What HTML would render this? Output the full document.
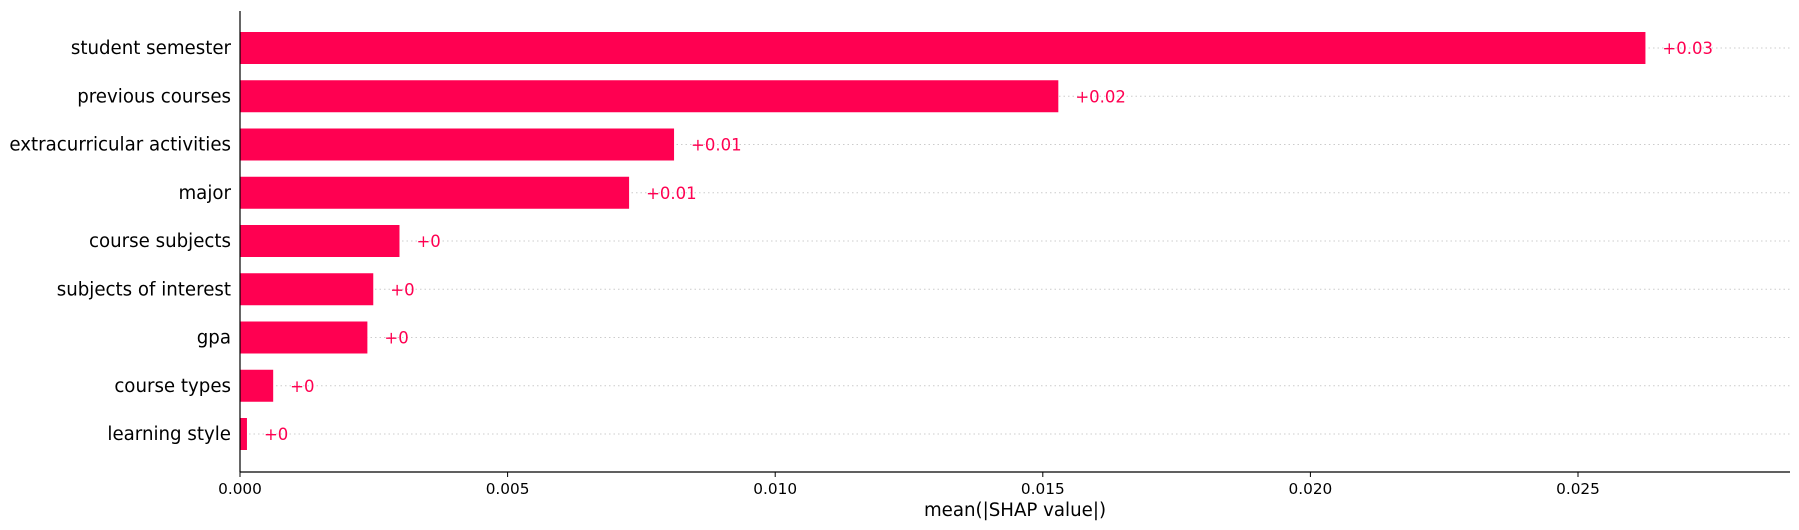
<!DOCTYPE html>
<html><head><meta charset="utf-8"><style>
html,body{margin:0;padding:0;background:#fff;}
svg{display:block;font-family:"DejaVu Sans","Liberation Sans",sans-serif;}
</style></head><body>
<svg id="chart" width="1799" height="530" viewBox="0 0 1799 530" xmlns="http://www.w3.org/2000/svg"></svg>
<script>
const features = ["student semester","previous courses","extracurricular activities","major","course subjects","subjects of interest","gpa","course types","learning style"];
const values = [0.02626,0.01529,0.00811,0.00727,0.00298,0.00249,0.00238,0.00062,0.00013];
const valueLabels = ["+0.03","+0.02","+0.01","+0.01","+0","+0","+0","+0","+0"];
const ticks = [0,0.005,0.010,0.015,0.020,0.025];
const tickLabels = ["0.000","0.005","0.010","0.015","0.020","0.025"];

const NS="http://www.w3.org/2000/svg";
const svg=document.getElementById('chart');
const x0=240, pxPerUnit=267.6/0.005, xRight=1790, axisY=472, topY=11;
const rowY0=48, rowStep=48.25, barH=32;
const xs=v=>x0+v*pxPerUnit;
const ys=i=>rowY0+i*rowStep;
function mk(tag,attrs,text){const e=document.createElementNS(NS,tag);for(const k in attrs)e.setAttribute(k,attrs[k]);if(text!==undefined)e.textContent=text;svg.appendChild(e);return e;}

features.forEach((f,i)=>{
  const y=ys(i);
  const g=mk('line',{x1:x0,x2:xRight,y1:y,y2:y,stroke:'#cccccc','stroke-width':1,'stroke-dasharray':'1.5,3'});
  
  
  const b=mk('rect',{x:x0,y:y-barH/2,width:xs(values[i])-x0,height:barH,fill:'#ff0051'});
  
  
  const v=mk('text',{x:xs(values[i])+17,y:y+6,fill:'#ff0051','font-size':16.5},valueLabels[i]);
  
  
  const l=mk('text',{x:x0-9,y:y+6,'text-anchor':'end',fill:'#000','font-size':18.2},f);
  
  
});
const ya=mk('line',{x1:x0,x2:x0,y1:topY,y2:axisY,stroke:'#000','stroke-width':1.2});


const xa=mk('line',{x1:x0,x2:xRight,y1:axisY,y2:axisY,stroke:'#000','stroke-width':1.2});


ticks.forEach((t,i)=>{
  const tk=mk('line',{x1:xs(t),x2:xs(t),y1:axisY,y2:axisY+5,stroke:'#000','stroke-width':1});
  
  
  const tl=mk('text',{x:xs(t),y:axisY+22,'text-anchor':'middle','font-size':15.3,fill:'#000'},tickLabels[i]);
  
  
});
const xt=mk('text',{x:1015,y:516,'text-anchor':'middle','font-size':18.2,fill:'#000'},'mean(|SHAP value|)');


</script>
</body></html>
